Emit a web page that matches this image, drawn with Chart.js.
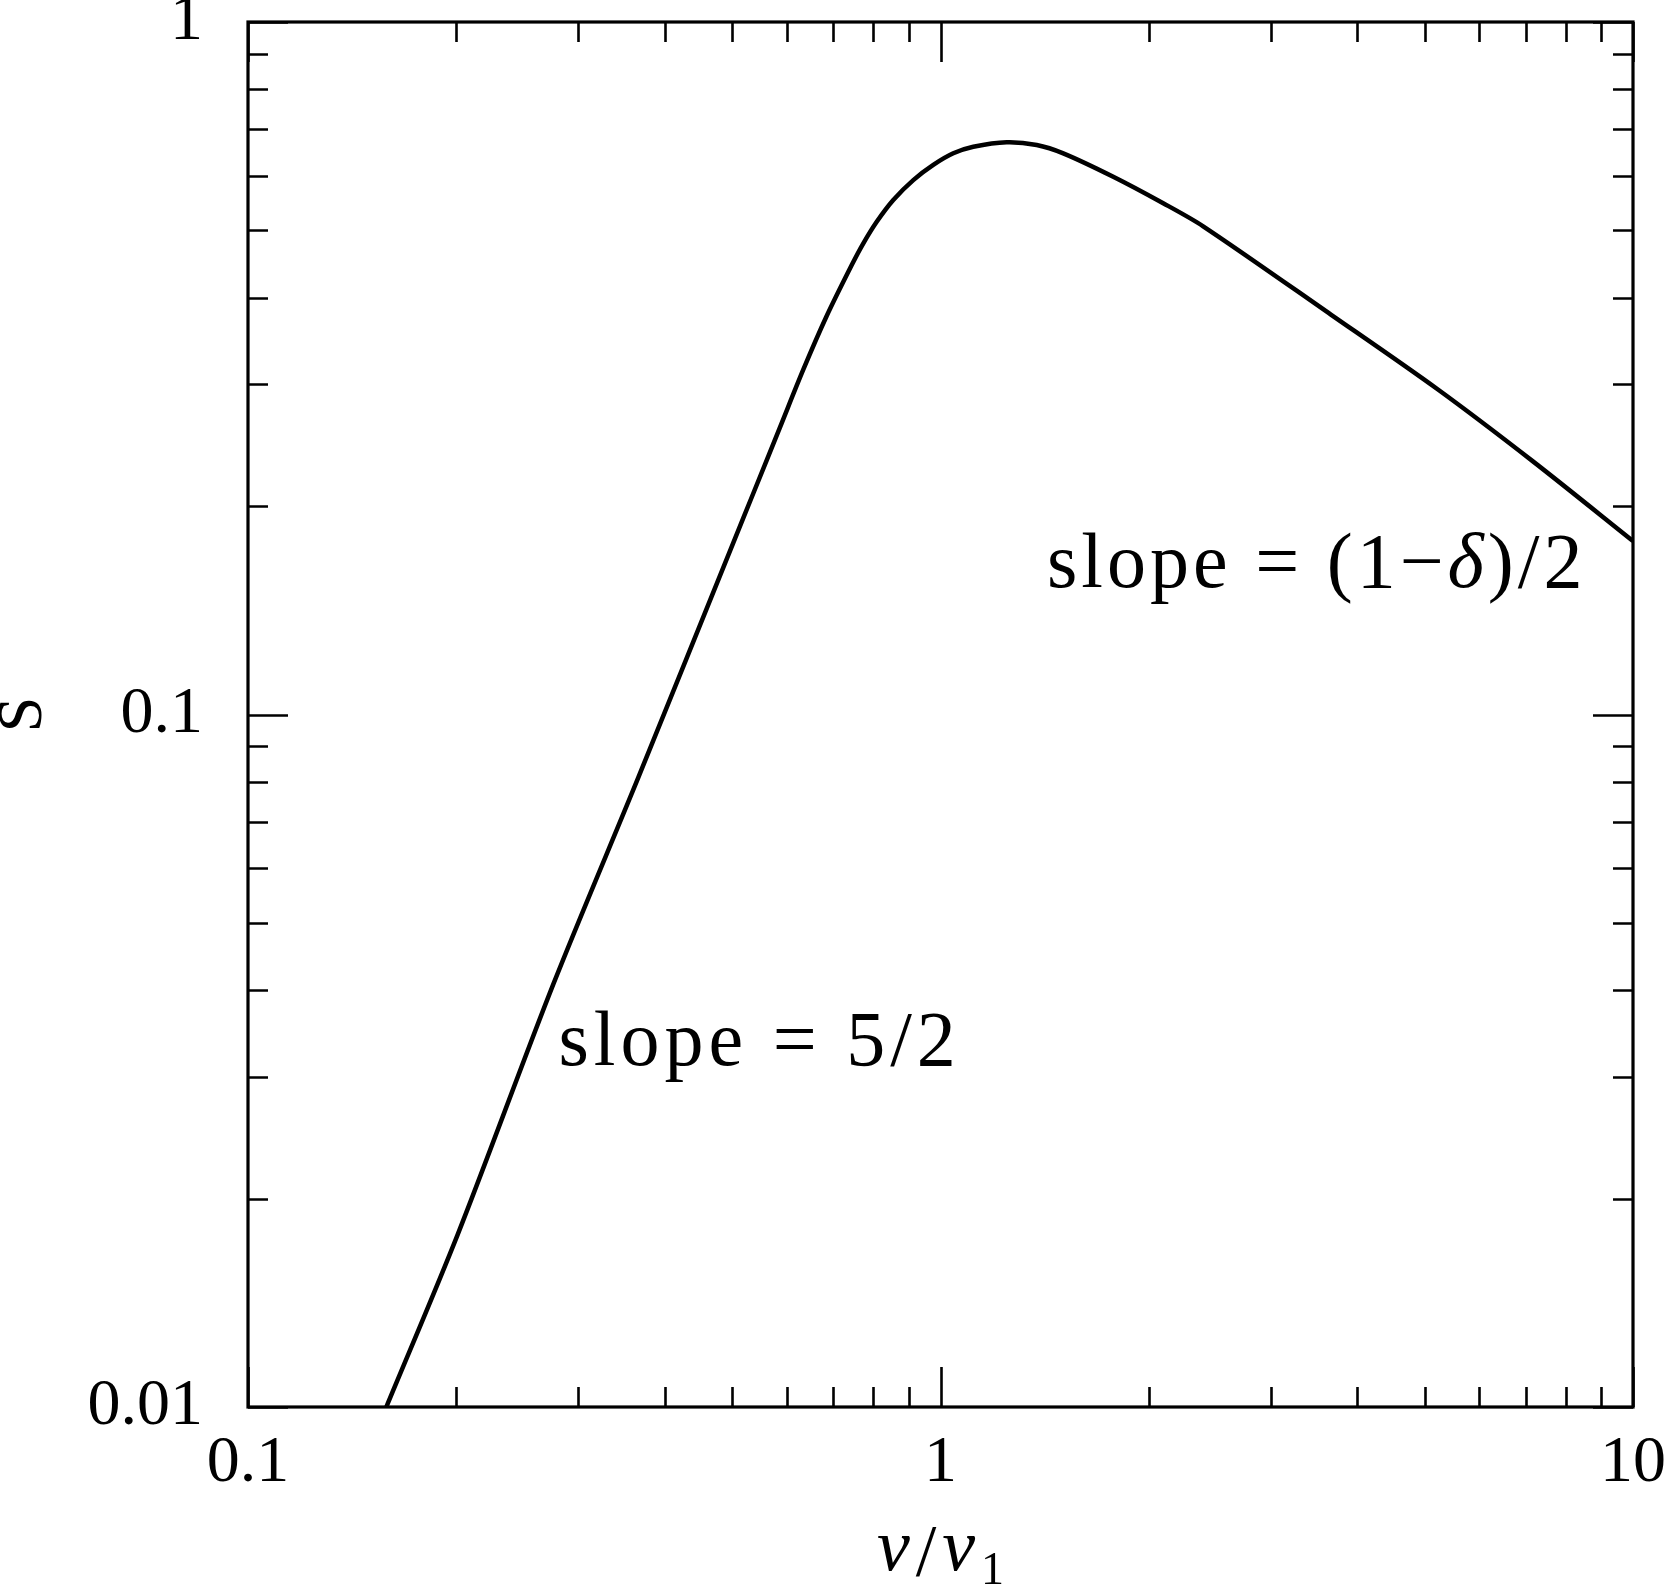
<!DOCTYPE html>
<html>
<head>
<meta charset="utf-8">
<script src="https://cdn.jsdelivr.net/npm/chart.js@4/dist/chart.umd.min.js"></script>
<style>
html,body{margin:0;padding:0;background:#fff;}
#wrap{width:1668px;height:1587px;}
</style>
</head>
<body>
<div id="wrap"><canvas id="c" width="1668" height="1587"></canvas></div>
<script>
// ---- data ----
const nu = [0.1584, 0.2008, 0.276, 0.3663, 0.5022, 0.5367, 0.5864, 0.6336, 0.6849, 0.7444, 0.7737, 0.8089, 0.8547, 0.9135, 0.9763, 1.0435, 1.1152, 1.246, 1.377, 1.504, 1.776, 2.097, 2.395, 3.662, 5.216, 7.17, 10];
const S  = [0.0100, 0.01774, 0.0408, 0.0812, 0.1771, 0.2087, 0.2598, 0.3147, 0.3762, 0.4457, 0.4791, 0.5147, 0.5534, 0.5912, 0.6218, 0.6462, 0.6605, 0.6705, 0.6644, 0.6462, 0.5978, 0.5474, 0.507, 0.378, 0.2951, 0.232, 0.178];

const xTickValues = [0.1,0.2,0.3,0.4,0.5,0.6,0.7,0.8,0.9,1,2,3,4,5,6,7,8,9,10];
const yTickValues = [0.01,0.02,0.03,0.04,0.05,0.06,0.07,0.08,0.09,0.1,0.2,0.3,0.4,0.5,0.6,0.7,0.8,0.9,1];
const xMajor = [0.1, 1, 10];
const yMajor = [0.01, 0.1, 1];
const xTickLabels = ['0.1', '1', '10'];
const yTickLabels = ['0.01', '0.1', '1'];

const xTitleParts = ['ν', '/', 'ν', '1'];
const yTitle = 'S';
const noteParts = [
  [['slope = 5/2', false]],
  [['slope = (1\u2212', false], ['\u03B4', true], [')/2', false]]
];
const noteAnchorX = [0.2808, 1.425];
const noteAnchorY = [0.03118, 0.1528];
const noteSpacing = ['5px', '4px'];

// ---- styles ----
const FONT = '"Liberation Serif", "DejaVu Serif", serif';
const TICK_MAJOR = 40, TICK_MINOR = 20;

function isMajor(list, v) { return list.some(m => Math.abs(Math.log10(m) - Math.log10(v)) < 1e-6); }
function labelFor(list, labels, v) {
  for (let i = 0; i < list.length; i++) if (Math.abs(Math.log10(list[i]) - Math.log10(v)) < 1e-6) return labels[i];
  return '';
}

const framePlugin = {
  id: 'frame',
  afterDatasetsDraw(chart) {
    const ctx = chart.ctx, a = chart.chartArea;
    const xs = chart.scales.x, ys = chart.scales.y;
    ctx.save();
    ctx.strokeStyle = '#000';
    ctx.lineCap = 'butt';
    ctx.lineWidth = 2.6;
    ctx.beginPath();
    for (const t of xs.ticks) {
      const p = Math.round(xs.getPixelForValue(t.value)) + 0.5;
      const L = isMajor(xMajor, t.value) ? TICK_MAJOR : TICK_MINOR;
      ctx.moveTo(p, a.bottom); ctx.lineTo(p, a.bottom - L);
      ctx.moveTo(p, a.top); ctx.lineTo(p, a.top + L);
    }
    for (const t of ys.ticks) {
      const p = Math.round(ys.getPixelForValue(t.value)) + 0.5;
      const L = isMajor(yMajor, t.value) ? TICK_MAJOR : TICK_MINOR;
      ctx.moveTo(a.left, p); ctx.lineTo(a.left + L, p);
      ctx.moveTo(a.right, p); ctx.lineTo(a.right - L, p);
    }
    ctx.stroke();
    ctx.lineWidth = 3.2;
    ctx.lineJoin = 'miter';
    ctx.strokeRect(a.left, a.top, a.right - a.left, a.bottom - a.top);
    ctx.restore();
  },
  afterDraw(chart) {
    const ctx = chart.ctx;
    const xs = chart.scales.x, ys = chart.scales.y;
    ctx.save();
    ctx.fillStyle = '#000';
    // annotations
    ctx.textAlign = 'left';
    ctx.textBaseline = 'alphabetic';
    for (let i = 0; i < noteParts.length; i++) {
      try { ctx.letterSpacing = noteSpacing[i]; } catch (e) {}
      let x = xs.getPixelForValue(noteAnchorX[i]);
      const y = ys.getPixelForValue(noteAnchorY[i]);
      for (const [txt, it] of noteParts[i]) {
        ctx.font = (it ? 'italic ' : '') + '78px ' + FONT;
        ctx.fillText(txt, x, y);
        x += ctx.measureText(txt).width;
      }
    }
    try { ctx.letterSpacing = '0px'; } catch (e) {}
    // x title  nu / nu_1
    const cx = xs.getPixelForValue(1);
    const base = 1570;
    const fIt = 'italic 74px ' + FONT, fUp = '74px ' + FONT, fSub = '46px ' + FONT;
    const gap = 6;
    ctx.font = fIt; const w1 = ctx.measureText(xTitleParts[0]).width;
    ctx.font = fUp; const w2 = ctx.measureText(xTitleParts[1]).width;
    ctx.font = fIt; const w3 = ctx.measureText(xTitleParts[2]).width;
    ctx.font = fSub; const w4 = ctx.measureText(xTitleParts[3]).width;
    const total = w1 + w2 + w3 + w4 + gap * 3;
    let x0 = cx - total / 2;
    ctx.font = fIt; ctx.fillText(xTitleParts[0], x0, base); x0 += w1 + gap;
    ctx.font = fUp; ctx.fillText(xTitleParts[1], x0, base + 6); x0 += w2 + gap;
    ctx.font = fIt; ctx.fillText(xTitleParts[2], x0, base); x0 += w3 + gap;
    ctx.font = fSub; ctx.fillText(xTitleParts[3], x0, base + 14);
    // y title
    ctx.save();
    ctx.translate(24, ys.getPixelForValue(0.1));
    ctx.rotate(-Math.PI / 2);
    ctx.font = '64px ' + FONT;
    ctx.textAlign = 'center';
    ctx.textBaseline = 'middle';
    ctx.fillText(yTitle, 0, 0);
    ctx.restore();
    ctx.restore();
  }
};

const points = nu.map((v, i) => ({ x: v, y: S[i] }));

new Chart(document.getElementById('c'), {
  type: 'line',
  data: {
    datasets: [{
      data: points,
      borderColor: '#000',
      borderWidth: 4.5,
      pointRadius: 0,
      fill: false,
      tension: 0.3
    }]
  },
  options: {
    responsive: false,
    animation: false,
    devicePixelRatio: 1,
    layout: { padding: { left: 0, right: 35, top: 22, bottom: 0 } },
    plugins: { legend: { display: false }, tooltip: { enabled: false } },
    scales: {
      x: {
        type: 'logarithmic',
        position: 'bottom',
        min: 0.1, max: 10,
        afterBuildTicks(scale) { scale.ticks = xTickValues.map(v => ({ value: v })); },
        afterFit(scale) { scale.height = 180; scale.paddingLeft = 0; scale.paddingRight = 0; },
        grid: { display: false, drawTicks: false },
        border: { display: false },
        ticks: {
          autoSkip: false, maxRotation: 0, minRotation: 0,
          padding: 24,
          color: '#000',
          font: { family: FONT, size: 66, lineHeight: 1 },
          callback: (v) => labelFor(xMajor, xTickLabels, v)
        }
      },
      y: {
        type: 'logarithmic',
        position: 'left',
        min: 0.01, max: 1,
        afterBuildTicks(scale) { scale.ticks = yTickValues.map(v => ({ value: v })); },
        afterFit(scale) { scale.width = 248; scale.paddingTop = 0; scale.paddingBottom = 0; },
        grid: { display: false, drawTicks: false },
        border: { display: false },
        ticks: {
          autoSkip: false,
          padding: 45,
          color: '#000',
          font: { family: FONT, size: 66, lineHeight: 1 },
          callback: (v) => labelFor(yMajor, yTickLabels, v)
        }
      }
    }
  },
  plugins: [framePlugin]
});
</script>
</body>
</html>
